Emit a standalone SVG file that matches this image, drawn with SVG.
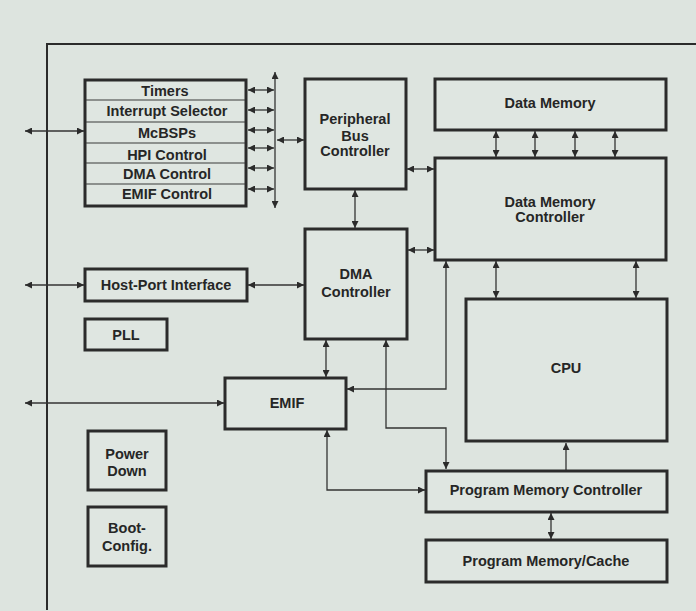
<svg xmlns="http://www.w3.org/2000/svg" width="696" height="611" viewBox="0 0 696 611">
<style>
.box{fill:#dfe6e1;stroke:#2b2b2b;stroke-width:3}
.row{stroke:#3a3a3a;stroke-width:1.2}
.frame{fill:none;stroke:#2b2b2b;stroke-width:2}
.c{fill:none;stroke:#333;stroke-width:1.3}
text{font-family:"Liberation Sans",Arial,sans-serif;font-weight:bold;font-size:14.5px;fill:#262626;text-anchor:middle}
</style>
<defs>
<marker id="ah" viewBox="0 0 10 10" refX="10" refY="5" markerWidth="8" markerHeight="7" markerUnits="userSpaceOnUse" orient="auto-start-reverse"><path d="M0,0 L10,5 L0,10 z" fill="#2b2b2b"/></marker>
</defs>
<rect width="696" height="611" fill="#dde4df"/>
<path class="frame" d="M47,610 V44 H696"/>
<g id="connectors">
<path class="c" d="M25,131 H84" marker-start="url(#ah)" marker-end="url(#ah)"/>
<path class="c" d="M25,285 H84" marker-start="url(#ah)" marker-end="url(#ah)"/>
<path class="c" d="M25,403 H224" marker-start="url(#ah)" marker-end="url(#ah)"/>
<path class="c" d="M275,72 V208" marker-start="url(#ah)" marker-end="url(#ah)"/>
<path class="c" d="M248,90 H274" marker-start="url(#ah)" marker-end="url(#ah)"/>
<path class="c" d="M248,110 H274" marker-start="url(#ah)" marker-end="url(#ah)"/>
<path class="c" d="M248,130 H274" marker-start="url(#ah)" marker-end="url(#ah)"/>
<path class="c" d="M248,148 H274" marker-start="url(#ah)" marker-end="url(#ah)"/>
<path class="c" d="M248,168 H274" marker-start="url(#ah)" marker-end="url(#ah)"/>
<path class="c" d="M248,189 H274" marker-start="url(#ah)" marker-end="url(#ah)"/>
<path class="c" d="M277,140 H304" marker-start="url(#ah)" marker-end="url(#ah)"/>
<path class="c" d="M407,169 H434" marker-start="url(#ah)" marker-end="url(#ah)"/>
<path class="c" d="M355,190 V228" marker-start="url(#ah)" marker-end="url(#ah)"/>
<path class="c" d="M496,131 V157" marker-start="url(#ah)" marker-end="url(#ah)"/>
<path class="c" d="M535,131 V157" marker-start="url(#ah)" marker-end="url(#ah)"/>
<path class="c" d="M575,131 V157" marker-start="url(#ah)" marker-end="url(#ah)"/>
<path class="c" d="M615,131 V157" marker-start="url(#ah)" marker-end="url(#ah)"/>
<path class="c" d="M408,250 H434" marker-start="url(#ah)" marker-end="url(#ah)"/>
<path class="c" d="M496,261 V298" marker-start="url(#ah)" marker-end="url(#ah)"/>
<path class="c" d="M636,261 V298" marker-start="url(#ah)" marker-end="url(#ah)"/>
<path class="c" d="M248,285 H304" marker-start="url(#ah)" marker-end="url(#ah)"/>
<path class="c" d="M326,340 V377" marker-start="url(#ah)" marker-end="url(#ah)"/>
<path class="c" d="M446,261 V389 H347" marker-start="url(#ah)" marker-end="url(#ah)"/>
<path class="c" d="M386,340 V428 H446 V469" marker-start="url(#ah)" marker-end="url(#ah)"/>
<path class="c" d="M327,430 V490 H425" marker-start="url(#ah)" marker-end="url(#ah)"/>
<path class="c" d="M566,470 V443" marker-end="url(#ah)"/>
<path class="c" d="M551,513 V539" marker-start="url(#ah)" marker-end="url(#ah)"/>
</g>
<g id="peripherals">
<rect class="box" x="85" y="80" width="161" height="126"/>
<line class="row" x1="86" y1="100" x2="245" y2="100"/>
<line class="row" x1="86" y1="122" x2="245" y2="122"/>
<line class="row" x1="86" y1="143" x2="245" y2="143"/>
<line class="row" x1="86" y1="163" x2="245" y2="163"/>
<line class="row" x1="86" y1="184" x2="245" y2="184"/>
<text x="165" y="96">Timers</text>
<text x="167" y="116">Interrupt Selector</text>
<text x="167" y="138">McBSPs</text>
<text x="167" y="160">HPI Control</text>
<text x="167" y="179">DMA Control</text>
<text x="167" y="199">EMIF Control</text>
</g>
<g id="pbc">
<rect class="box" x="305" y="79" width="101" height="110"/>
<text x="355" y="124">Peripheral</text>
<text x="355" y="141">Bus</text>
<text x="355" y="156">Controller</text>
</g>
<g id="data-memory">
<rect class="box" x="435" y="79" width="231" height="51"/>
<text x="550" y="108">Data Memory</text>
</g>
<g id="dmc">
<rect class="box" x="435" y="158" width="231" height="102"/>
<text x="550" y="207">Data Memory</text>
<text x="550" y="222">Controller</text>
</g>
<g id="dma">
<rect class="box" x="305" y="229" width="102" height="110"/>
<text x="356" y="279">DMA</text>
<text x="356" y="297">Controller</text>
</g>
<g id="hpi">
<rect class="box" x="85" y="269" width="162" height="32"/>
<text x="166" y="290">Host-Port Interface</text>
</g>
<g id="pll">
<rect class="box" x="85" y="319" width="82" height="31"/>
<text x="126" y="340">PLL</text>
</g>
<g id="cpu">
<rect class="box" x="466" y="299" width="201" height="142"/>
<text x="566" y="373">CPU</text>
</g>
<g id="emif">
<rect class="box" x="225" y="378" width="121" height="51"/>
<text x="287" y="408">EMIF</text>
</g>
<g id="power-down">
<rect class="box" x="88" y="431" width="78" height="59"/>
<text x="127" y="459">Power</text>
<text x="127" y="476">Down</text>
</g>
<g id="boot-config">
<rect class="box" x="88" y="507" width="78" height="59"/>
<text x="127" y="533">Boot-</text>
<text x="127" y="551">Config.</text>
</g>
<g id="pmc">
<rect class="box" x="426" y="471" width="241" height="41"/>
<text x="546" y="495">Program Memory Controller</text>
</g>
<g id="pm-cache">
<rect class="box" x="426" y="540" width="241" height="42"/>
<text x="546" y="566">Program Memory/Cache</text>
</g>
</svg>
